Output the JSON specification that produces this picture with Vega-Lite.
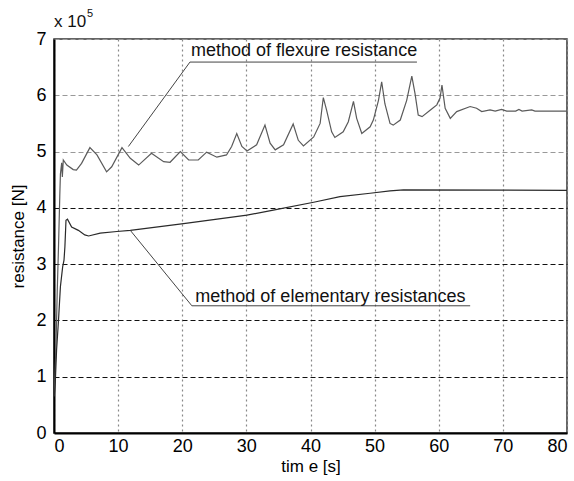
{
  "$schema": "https://vega.github.io/schema/vega-lite/v6.json",
  "width": 513,
  "height": 394,
  "autosize": {"type": "none"},
  "padding": {"left": 54, "top": 39, "right": 7, "bottom": 48},
  "background": "white",
  "config": {
    "view": {"stroke": "#333", "strokeWidth": 1.5},
    "font": "Liberation Sans",
    "axis": {"labelFont": "Liberation Sans", "titleFont": "Liberation Sans", "labelFontSize": 18, "titleFontSize": 17, "titleFontWeight": "normal", "labelColor": "#000", "titleColor": "#000", "ticks": false, "domainColor": "#000", "domainWidth": 2}
  },
  "datasets": {
    "curves": [
      {"t": 0.05, "v": 0.7, "s": "flexure"},
      {"t": 0.3, "v": 1.5, "s": "flexure"},
      {"t": 0.5, "v": 2.5, "s": "flexure"},
      {"t": 0.7, "v": 3.3, "s": "flexure"},
      {"t": 0.9, "v": 4.2, "s": "flexure"},
      {"t": 1.0, "v": 4.6, "s": "flexure"},
      {"t": 1.2, "v": 4.8, "s": "flexure"},
      {"t": 1.3, "v": 4.55, "s": "flexure"},
      {"t": 1.45, "v": 4.85, "s": "flexure"},
      {"t": 2.0, "v": 4.76, "s": "flexure"},
      {"t": 3.0, "v": 4.68, "s": "flexure"},
      {"t": 3.5, "v": 4.67, "s": "flexure"},
      {"t": 4.3, "v": 4.79, "s": "flexure"},
      {"t": 5.6, "v": 5.07, "s": "flexure"},
      {"t": 6.7, "v": 4.94, "s": "flexure"},
      {"t": 8.2, "v": 4.64, "s": "flexure"},
      {"t": 9.0, "v": 4.73, "s": "flexure"},
      {"t": 10.6, "v": 5.07, "s": "flexure"},
      {"t": 11.9, "v": 4.88, "s": "flexure"},
      {"t": 13.2, "v": 4.76, "s": "flexure"},
      {"t": 15.2, "v": 4.97, "s": "flexure"},
      {"t": 17.1, "v": 4.82, "s": "flexure"},
      {"t": 18.1, "v": 4.81, "s": "flexure"},
      {"t": 19.7, "v": 5.0, "s": "flexure"},
      {"t": 21.0, "v": 4.85, "s": "flexure"},
      {"t": 22.5, "v": 4.85, "s": "flexure"},
      {"t": 23.8, "v": 4.99, "s": "flexure"},
      {"t": 25.4, "v": 4.9, "s": "flexure"},
      {"t": 26.9, "v": 4.94, "s": "flexure"},
      {"t": 27.7, "v": 5.09, "s": "flexure"},
      {"t": 28.5, "v": 5.32, "s": "flexure"},
      {"t": 29.3, "v": 5.09, "s": "flexure"},
      {"t": 30.1, "v": 5.01, "s": "flexure"},
      {"t": 31.6, "v": 5.12, "s": "flexure"},
      {"t": 32.9, "v": 5.47, "s": "flexure"},
      {"t": 33.7, "v": 5.15, "s": "flexure"},
      {"t": 34.5, "v": 5.03, "s": "flexure"},
      {"t": 35.8, "v": 5.12, "s": "flexure"},
      {"t": 37.3, "v": 5.49, "s": "flexure"},
      {"t": 38.1, "v": 5.2, "s": "flexure"},
      {"t": 38.9, "v": 5.1, "s": "flexure"},
      {"t": 40.5, "v": 5.26, "s": "flexure"},
      {"t": 41.5, "v": 5.5, "s": "flexure"},
      {"t": 42.0, "v": 5.96, "s": "flexure"},
      {"t": 42.5, "v": 5.74, "s": "flexure"},
      {"t": 43.3, "v": 5.35, "s": "flexure"},
      {"t": 43.8, "v": 5.25, "s": "flexure"},
      {"t": 45.1, "v": 5.35, "s": "flexure"},
      {"t": 45.9, "v": 5.53, "s": "flexure"},
      {"t": 46.7, "v": 5.89, "s": "flexure"},
      {"t": 47.2, "v": 5.59, "s": "flexure"},
      {"t": 48.0, "v": 5.32, "s": "flexure"},
      {"t": 49.3, "v": 5.44, "s": "flexure"},
      {"t": 49.8, "v": 5.56, "s": "flexure"},
      {"t": 50.6, "v": 5.91, "s": "flexure"},
      {"t": 51.1, "v": 6.24, "s": "flexure"},
      {"t": 51.6, "v": 5.85, "s": "flexure"},
      {"t": 52.4, "v": 5.5, "s": "flexure"},
      {"t": 52.9, "v": 5.47, "s": "flexure"},
      {"t": 54.0, "v": 5.56, "s": "flexure"},
      {"t": 55.0, "v": 5.91, "s": "flexure"},
      {"t": 55.8, "v": 6.34, "s": "flexure"},
      {"t": 56.3, "v": 6.03, "s": "flexure"},
      {"t": 56.8, "v": 5.65, "s": "flexure"},
      {"t": 57.4, "v": 5.62, "s": "flexure"},
      {"t": 58.7, "v": 5.74, "s": "flexure"},
      {"t": 59.7, "v": 5.83, "s": "flexure"},
      {"t": 60.2, "v": 5.95, "s": "flexure"},
      {"t": 60.5, "v": 6.18, "s": "flexure"},
      {"t": 61.0, "v": 5.77, "s": "flexure"},
      {"t": 61.8, "v": 5.59, "s": "flexure"},
      {"t": 62.8, "v": 5.71, "s": "flexure"},
      {"t": 64.9, "v": 5.8, "s": "flexure"},
      {"t": 65.9, "v": 5.77, "s": "flexure"},
      {"t": 66.7, "v": 5.71, "s": "flexure"},
      {"t": 68.0, "v": 5.74, "s": "flexure"},
      {"t": 68.8, "v": 5.72, "s": "flexure"},
      {"t": 69.8, "v": 5.75, "s": "flexure"},
      {"t": 70.6, "v": 5.72, "s": "flexure"},
      {"t": 72.0, "v": 5.72, "s": "flexure"},
      {"t": 72.5, "v": 5.75, "s": "flexure"},
      {"t": 73.0, "v": 5.72, "s": "flexure"},
      {"t": 74.5, "v": 5.74, "s": "flexure"},
      {"t": 75.0, "v": 5.72, "s": "flexure"},
      {"t": 80.0, "v": 5.72, "s": "flexure"},
      {"t": 0.05, "v": 0.65, "s": "elementary"},
      {"t": 0.2, "v": 0.9, "s": "elementary"},
      {"t": 0.4, "v": 1.47, "s": "elementary"},
      {"t": 0.7, "v": 2.0, "s": "elementary"},
      {"t": 1.0, "v": 2.6, "s": "elementary"},
      {"t": 1.35, "v": 2.95, "s": "elementary"},
      {"t": 1.56, "v": 3.07, "s": "elementary"},
      {"t": 1.7, "v": 3.31, "s": "elementary"},
      {"t": 1.87, "v": 3.78, "s": "elementary"},
      {"t": 2.1, "v": 3.8, "s": "elementary"},
      {"t": 2.75, "v": 3.66, "s": "elementary"},
      {"t": 3.8, "v": 3.6, "s": "elementary"},
      {"t": 4.8, "v": 3.52, "s": "elementary"},
      {"t": 5.4, "v": 3.5, "s": "elementary"},
      {"t": 7.2, "v": 3.55, "s": "elementary"},
      {"t": 9.8, "v": 3.58, "s": "elementary"},
      {"t": 11.9, "v": 3.6, "s": "elementary"},
      {"t": 20.2, "v": 3.72, "s": "elementary"},
      {"t": 30.1, "v": 3.87, "s": "elementary"},
      {"t": 34.2, "v": 3.96, "s": "elementary"},
      {"t": 40.5, "v": 4.1, "s": "elementary"},
      {"t": 44.6, "v": 4.2, "s": "elementary"},
      {"t": 49.3, "v": 4.26, "s": "elementary"},
      {"t": 52.4, "v": 4.3, "s": "elementary"},
      {"t": 54.5, "v": 4.32, "s": "elementary"},
      {"t": 80.0, "v": 4.31, "s": "elementary"}
    ],
    "leaders": [
      {"t": 11.6, "v": 5.09, "g": "a", "o": 1},
      {"t": 21.2, "v": 6.59, "g": "a", "o": 2},
      {"t": 56.6, "v": 6.59, "g": "a", "o": 3},
      {"t": 11.9, "v": 3.6, "g": "b", "o": 1},
      {"t": 21.5, "v": 2.26, "g": "b", "o": 2},
      {"t": 64.9, "v": 2.26, "g": "b", "o": 3}
    ],
    "labels": [
      {"t": 39.0, "v": 6.7, "label": "method of flexure resistance"},
      {"t": 43.1, "v": 2.33, "label": "method of elementary resistances"}
    ],
    "corner": [
      {"t": 0, "v": 7}
    ]
  },
  "layer": [
    {
      "data": {"name": "curves"},
      "mark": {"type": "line", "strokeWidth": 1.2, "clip": true},
      "encoding": {
        "x": {"field": "t", "type": "quantitative", "scale": {"domain": [0, 80], "nice": false},
          "axis": {"values": [0, 10, 20, 30, 40, 50, 60, 70, 80], "format": "d", "title": "tim e [s]", "labelPadding": 4, "titlePadding": 3,
            "gridColor": "#888", "gridDash": [2, 3], "gridWidth": 1.2}},
        "y": {"field": "v", "type": "quantitative", "scale": {"domain": [0, 7], "nice": false},
          "axis": {"values": [0, 0.5, 1, 1.5, 2, 2.5, 3, 3.5, 4, 4.5, 5, 5.5, 6, 6.5, 7],
            "labelExpr": "datum.value % 1 === 0 ? format(datum.value, 'd') : ''",
            "title": "resistance [N]", "labelPadding": 8, "titlePadding": 8,
            "gridColor": {"condition": {"test": "indexof([1,2,3,4,4.5,5.5,6.5], datum.value) >= 0", "value": "#111"}, "value": "#999"},
            "gridDash": [5, 3], "gridWidth": 1.1}},
        "color": {"field": "s", "type": "nominal", "scale": {"domain": ["flexure", "elementary"], "range": ["#5a5a5a", "#2a2a2a"]}, "legend": null},
        "strokeWidth": {"field": "s", "type": "nominal", "scale": {"domain": ["flexure", "elementary"], "range": [1.1, 1.6]}, "legend": null}
      }
    },
    {
      "data": {"name": "leaders"},
      "mark": {"type": "line", "color": "#444", "strokeWidth": 1},
      "encoding": {
        "x": {"field": "t", "type": "quantitative"},
        "y": {"field": "v", "type": "quantitative"},
        "detail": {"field": "g"},
        "order": {"field": "o"}
      }
    },
    {
      "data": {"name": "labels"},
      "mark": {"type": "text", "fontSize": 18, "font": "Liberation Sans", "align": "center", "baseline": "alphabetic", "color": "#111"},
      "encoding": {
        "x": {"field": "t", "type": "quantitative"},
        "y": {"field": "v", "type": "quantitative"},
        "text": {"field": "label"}
      }
    },
    {
      "data": {"name": "corner"},
      "mark": {"type": "text", "fontSize": 17, "font": "Liberation Sans", "align": "left", "baseline": "alphabetic", "dx": 0, "dy": -12, "color": "#111"},
      "encoding": {
        "x": {"field": "t", "type": "quantitative"},
        "y": {"field": "v", "type": "quantitative"},
        "text": {"value": "x 10"}
      }
    },
    {
      "data": {"name": "corner"},
      "mark": {"type": "text", "fontSize": 11, "font": "Liberation Sans", "align": "left", "baseline": "alphabetic", "dx": 33, "dy": -22, "color": "#111"},
      "encoding": {
        "x": {"field": "t", "type": "quantitative"},
        "y": {"field": "v", "type": "quantitative"},
        "text": {"value": "5"}
      }
    }
  ]
}
